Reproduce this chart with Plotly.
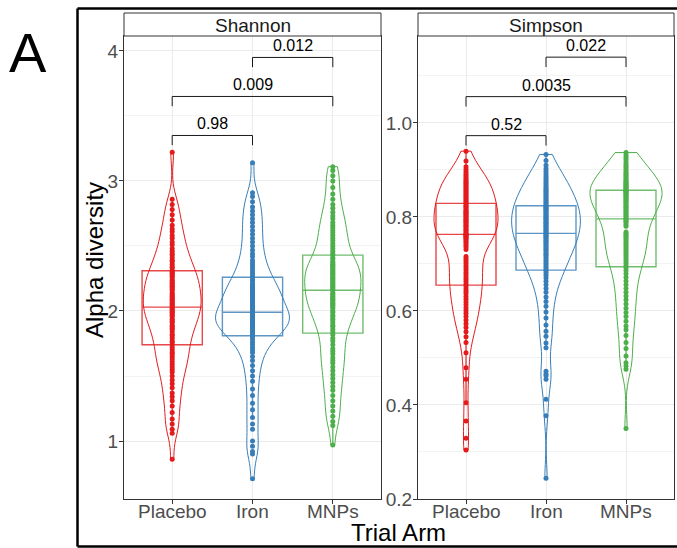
import plotly.graph_objects as go

W, H = 677, 548

# ---- data -----------------------------------------------------------------
arms = ["Placebo", "Iron", "MNPs"]
arm_colors = ["#E41A1C", "#377EB8", "#4DAF4A"]

shannon_placebo = [
    0.86, 1.06, 1.09, 1.13, 1.17, 1.22, 1.27, 1.31, 1.34, 1.37, 1.41, 1.44, 1.47,
    1.50, 1.53, 1.55, 1.57, 1.59, 1.61, 1.63, 1.65, 1.67, 1.68, 1.70, 1.72, 1.74,
    1.76, 1.77, 1.79, 1.81, 1.82, 1.84, 1.86, 1.87, 1.88, 1.89, 1.91, 1.92, 1.93,
    1.94, 1.96, 1.97, 1.98, 1.99, 2.00, 2.01, 2.02, 2.03, 2.04, 2.05, 2.06, 2.07,
    2.08, 2.09, 2.10, 2.11, 2.12, 2.13, 2.14, 2.16, 2.17, 2.18, 2.19, 2.20, 2.21,
    2.22, 2.23, 2.24, 2.26, 2.27, 2.28, 2.29, 2.30, 2.31, 2.33, 2.34, 2.36, 2.38,
    2.39, 2.41, 2.43, 2.44, 2.46, 2.48, 2.51, 2.53, 2.56, 2.58, 2.61, 2.63, 2.66,
    2.70, 2.74, 2.78, 2.82, 2.86, 3.22,
]
shannon_iron = [
    0.71, 0.90, 0.92, 0.96, 1.00, 1.09, 1.13, 1.18, 1.24, 1.29, 1.35, 1.40, 1.46,
    1.50, 1.54, 1.58, 1.62, 1.65, 1.68, 1.70, 1.72, 1.74, 1.76, 1.78, 1.80,
    1.81, 1.82, 1.83, 1.84, 1.85, 1.86, 1.87, 1.88, 1.88, 1.89, 1.90, 1.91, 1.91,
    1.92, 1.93, 1.93, 1.94, 1.94, 1.95, 1.95, 1.96, 1.96, 1.97, 1.98, 1.99,
    2.00, 2.01, 2.02, 2.03, 2.04, 2.05, 2.06, 2.07, 2.08, 2.09, 2.10, 2.11, 2.12,
    2.13, 2.14, 2.15, 2.16, 2.17, 2.18, 2.19, 2.20, 2.21, 2.23, 2.24, 2.26,
    2.27, 2.29, 2.31, 2.33, 2.35, 2.37, 2.39, 2.42, 2.44, 2.47, 2.50, 2.53, 2.56,
    2.59, 2.62, 2.65, 2.68, 2.71, 2.74, 2.77, 2.80, 2.84, 2.88, 2.91, 3.14,
]
shannon_mnps = [
    0.97, 1.12, 1.15, 1.19, 1.23, 1.27, 1.31, 1.35, 1.39, 1.42, 1.45, 1.48, 1.51,
    1.54, 1.57, 1.60, 1.62, 1.64, 1.67, 1.69, 1.71, 1.74, 1.77, 1.79, 1.82,
    1.84, 1.86, 1.88, 1.89, 1.91, 1.93, 1.94, 1.96, 1.97, 1.99, 2.00, 2.02, 2.03,
    2.04, 2.05, 2.06, 2.07, 2.08, 2.09, 2.10, 2.11, 2.12, 2.13, 2.14, 2.16,
    2.17, 2.18, 2.19, 2.20, 2.21, 2.22, 2.23, 2.24, 2.25, 2.26, 2.27, 2.28, 2.29,
    2.30, 2.31, 2.32, 2.33, 2.34, 2.35, 2.36, 2.37, 2.38, 2.40, 2.41, 2.43,
    2.44, 2.46, 2.48, 2.50, 2.52, 2.54, 2.56, 2.58, 2.60, 2.62, 2.64, 2.66, 2.68,
    2.71, 2.73, 2.76, 2.79, 2.82, 2.86, 2.90, 2.95, 3.00, 3.04, 3.08, 3.11,
]

simpson_placebo = [
    0.304, 0.329, 0.366, 0.405, 0.455, 0.479, 0.511, 0.533, 0.545, 0.556, 0.565,
    0.573, 0.581, 0.588, 0.595, 0.601, 0.607, 0.613, 0.619, 0.625, 0.631, 0.637,
    0.642, 0.647, 0.652,
    0.657, 0.662, 0.667, 0.672, 0.677, 0.682, 0.687, 0.692, 0.697, 0.702, 0.707,
    0.711, 0.716, 0.731, 0.736, 0.740, 0.744, 0.748, 0.751, 0.754, 0.756, 0.758,
    0.760, 0.761, 0.763,
    0.765, 0.768, 0.771, 0.774, 0.777, 0.780, 0.782, 0.785, 0.788, 0.790, 0.793,
    0.795, 0.798, 0.800, 0.803, 0.805, 0.808, 0.810, 0.812, 0.815, 0.818, 0.821,
    0.823, 0.826, 0.829,
    0.832, 0.835, 0.838, 0.841, 0.844, 0.847, 0.850, 0.853, 0.856, 0.859, 0.862,
    0.865, 0.868, 0.871, 0.874, 0.877, 0.880, 0.884, 0.888, 0.892, 0.896, 0.901,
    0.907, 0.919, 0.940,
]
simpson_iron = [
    0.244, 0.377, 0.412, 0.455, 0.462, 0.466, 0.472, 0.522, 0.532, 0.546, 0.557,
    0.570, 0.585, 0.598, 0.610, 0.620, 0.630, 0.640, 0.648, 0.656, 0.663, 0.670,
    0.676, 0.681, 0.685,
    0.689, 0.693, 0.697, 0.701, 0.705, 0.709, 0.713, 0.717, 0.720, 0.723, 0.727,
    0.730, 0.733, 0.736, 0.739, 0.742, 0.745, 0.748, 0.750, 0.753, 0.756, 0.758,
    0.760, 0.762, 0.765,
    0.767, 0.770, 0.772, 0.775, 0.777, 0.780, 0.782, 0.785, 0.787, 0.789, 0.792,
    0.794, 0.797, 0.799, 0.801, 0.804, 0.806, 0.809, 0.811, 0.814, 0.816, 0.818,
    0.820, 0.822, 0.824,
    0.827, 0.830, 0.833, 0.836, 0.839, 0.842, 0.845, 0.848, 0.851, 0.854, 0.857,
    0.860, 0.863, 0.867, 0.871, 0.875, 0.879, 0.883, 0.887, 0.892, 0.897, 0.903,
    0.910, 0.920, 0.933,
]
simpson_mnps = [
    0.350, 0.476, 0.483, 0.490, 0.504, 0.520, 0.533, 0.548, 0.560, 0.568, 0.578,
    0.588, 0.597, 0.606, 0.615, 0.624, 0.632, 0.640, 0.648, 0.656, 0.664, 0.672,
    0.679, 0.686, 0.692,
    0.697, 0.702, 0.707, 0.711, 0.716, 0.720, 0.724, 0.728, 0.732, 0.736, 0.740,
    0.744, 0.748, 0.752, 0.756, 0.759, 0.762, 0.765, 0.768, 0.780, 0.784, 0.788,
    0.791, 0.794, 0.796,
    0.799, 0.802, 0.805, 0.808, 0.811, 0.814, 0.817, 0.820, 0.822, 0.825, 0.828,
    0.830, 0.833, 0.835, 0.838, 0.840, 0.843, 0.845, 0.847, 0.849, 0.851, 0.853,
    0.854, 0.856, 0.857,
    0.859, 0.861, 0.863, 0.865, 0.867, 0.869, 0.871, 0.873, 0.875, 0.878, 0.881,
    0.884, 0.887, 0.890, 0.893, 0.896, 0.900, 0.904, 0.908, 0.912, 0.917, 0.922,
    0.927, 0.932, 0.937,
]

# box summaries (lower hinge, median, upper hinge) per arm
shannon_q1 = [1.74, 1.81, 1.83]
shannon_median = [2.03, 1.99, 2.16]
shannon_q3 = [2.31, 2.26, 2.43]
simpson_q1 = [0.655, 0.687, 0.694]
simpson_median = [0.763, 0.765, 0.796]
simpson_q3 = [0.829, 0.824, 0.857]

# pairwise comparisons (arm index pairs) and their p-values
comparisons = [(0, 1), (0, 2), (1, 2)]
shannon_p = ["0.98", "0.009", "0.012"]
simpson_p = ["0.52", "0.0035", "0.022"]
shannon_bracket_y = [3.35, 3.65, 3.95]
simpson_bracket_y = [0.973, 1.056, 1.14]

# ---- styling ----------------------------------------------------------------
FONT = "Liberation Sans, Arial, Helvetica, sans-serif"
GRID = "#EBEBEB"
BORDER = "#333333"
TICKTXT = "#4D4D4D"

panels = [
    dict(name="Shannon", x0=124, x1=381,
         groups=[shannon_placebo, shannon_iron, shannon_mnps],
         q1=shannon_q1, med=shannon_median, q3=shannon_q3,
         vwidth=[0.72, 0.92, 0.70], bw=0.09,
         yrange=[0.554, 4.115], dtick=1, minor=0.5, fmt="d",
         p=shannon_p, by=shannon_bracket_y, drop=0.075),
    dict(name="Simpson", x0=418, x1=674,
         groups=[simpson_placebo, simpson_iron, simpson_mnps],
         q1=simpson_q1, med=simpson_median, q3=simpson_q3,
         vwidth=[0.80, 0.86, 0.90], bw=0.03,
         yrange=[0.2, 1.185], dtick=0.2, minor=0.1, fmt=".1f",
         p=simpson_p, by=simpson_bracket_y, drop=0.021),
]
PLOT_TOP, PLOT_BOT = 36, 499
STRIP_TOP = 13
XLABEL_Y = 511


def px(x):
    return x / W


def py(y):
    return 1 - y / H


def label(x, y, text, size, color="black", angle=0):
    return dict(x=px(x), y=py(y), xref="paper", yref="paper", text=text,
                textangle=angle, showarrow=False, xanchor="center",
                yanchor="middle", font=dict(family=FONT, size=size, color=color))


fig = go.Figure()
shapes, annotations = [], []

for k, pnl in enumerate(panels):
    xa = "x" if k == 0 else "x2"
    ya = "y" if k == 0 else "y2"

    for i, (vals, col) in enumerate(zip(pnl["groups"], arm_colors)):
        # violin outline
        fig.add_trace(go.Violin(
            x=[i] * len(vals), y=vals, xaxis=xa, yaxis=ya,
            width=pnl["vwidth"][i], spanmode="hard", bandwidth=pnl["bw"],
            line=dict(color=col, width=1), fillcolor="rgba(0,0,0,0)",
            points=False, box_visible=False, meanline_visible=False,
            showlegend=False, hoverinfo="skip",
        ))
        # box with hinges and median
        iqr = pnl["q3"][i] - pnl["q1"][i]
        lo = min(v for v in vals if v >= pnl["q1"][i] - 1.5 * iqr)
        hi = max(v for v in vals if v <= pnl["q3"][i] + 1.5 * iqr)
        fig.add_trace(go.Box(
            x=[i], q1=[pnl["q1"][i]], median=[pnl["med"][i]], q3=[pnl["q3"][i]],
            lowerfence=[lo], upperfence=[hi], xaxis=xa, yaxis=ya,
            width=0.75, whiskerwidth=0, boxpoints=False,
            line=dict(color=col, width=1.4), fillcolor="rgba(0,0,0,0)",
            opacity=0.8, showlegend=False, hoverinfo="skip",
        ))
        # individual samples
        fig.add_trace(go.Scatter(
            x=[i] * len(vals), y=vals, xaxis=xa, yaxis=ya, mode="markers",
            marker=dict(color=col, size=5, line=dict(width=0)),
            showlegend=False, hoverinfo="skip",
        ))

    # significance brackets
    for (a, b), ptxt, yb in zip(comparisons, pnl["p"], pnl["by"]):
        fig.add_trace(go.Scatter(
            x=[a, a, b, b], y=[yb - pnl["drop"], yb, yb, yb - pnl["drop"]],
            xaxis=xa, yaxis=ya, mode="lines",
            line=dict(color="#1A1A1A", width=1),
            showlegend=False, hoverinfo="skip",
        ))
        annotations.append(dict(
            x=(a + b) / 2, y=yb, xref=xa, yref=ya, text=ptxt, showarrow=False,
            xanchor="center", yanchor="bottom", yshift=1,
            font=dict(family=FONT, size=16, color="black"),
        ))

    # category labels under each panel
    for i, arm in enumerate(arms):
        annotations.append(dict(
            x=i, y=py(XLABEL_Y), xref=xa, yref="paper", text=arm, showarrow=False,
            xanchor="center", yanchor="middle",
            font=dict(family=FONT, size=19, color=TICKTXT),
        ))

    # facet strip
    shapes.append(dict(type="rect", xref="paper", yref="paper",
                       x0=px(pnl["x0"]), x1=px(pnl["x1"]),
                       y0=py(PLOT_TOP), y1=py(STRIP_TOP),
                       line=dict(color=BORDER, width=1), fillcolor="white"))
    annotations.append(label((pnl["x0"] + pnl["x1"]) / 2, (PLOT_TOP + STRIP_TOP) / 2 + 1,
                             pnl["name"], 19, "#1A1A1A"))

    axis_common = dict(showline=True, mirror=True, linecolor=BORDER, linewidth=1,
                       ticks="outside", ticklen=4, tickcolor=BORDER, tickwidth=1,
                       showgrid=True, gridcolor=GRID, gridwidth=1, zeroline=False,
                       automargin=False,
                       tickfont=dict(family=FONT, size=19, color=TICKTXT))
    xkey = "xaxis" if k == 0 else "xaxis2"
    ykey = "yaxis" if k == 0 else "yaxis2"
    fig.update_layout(**{
        xkey: dict(axis_common, domain=[px(pnl["x0"]), px(pnl["x1"])],
                   range=[-0.6, 2.6], tickmode="array", tickvals=[0, 1, 2],
                   showticklabels=False, anchor=ya),
        ykey: dict(axis_common, domain=[py(PLOT_BOT), py(PLOT_TOP)],
                   range=pnl["yrange"], tick0=0, dtick=pnl["dtick"],
                   tickformat=pnl["fmt"], anchor=xa, ticklabelstandoff=-3,
                   minor=dict(dtick=pnl["minor"], tick0=0, showgrid=True,
                              gridcolor="#F3F3F3", gridwidth=1, ticks="")),
    })

# axis titles and panel letter
annotations.append(label(94, 260, "Alpha diversity", 24, angle=-90))
annotations.append(label(398, 532, "Trial Arm", 24))
annotations.append(label(28, 52, "A", 56))

# outer frame (top, left, bottom)
for (x0, y0, x1, y1) in [(77.5, 8.5, 700, 8.5), (77.5, 8.5, 77.5, 546.5),
                         (77.5, 546.5, 700, 546.5)]:
    shapes.append(dict(type="line", xref="paper", yref="paper",
                       x0=px(x0), y0=py(y0), x1=px(x1), y1=py(y1),
                       line=dict(color="black", width=2.5)))

fig.update_layout(
    template="none",
    width=W, height=H, autosize=False,
    margin=dict(l=0, r=0, t=0, b=0, pad=0),
    paper_bgcolor="white", plot_bgcolor="white",
    violinmode="overlay", boxmode="overlay",
    shapes=shapes, annotations=annotations,
    font=dict(family=FONT),
)

fig.write_html("out.html")
